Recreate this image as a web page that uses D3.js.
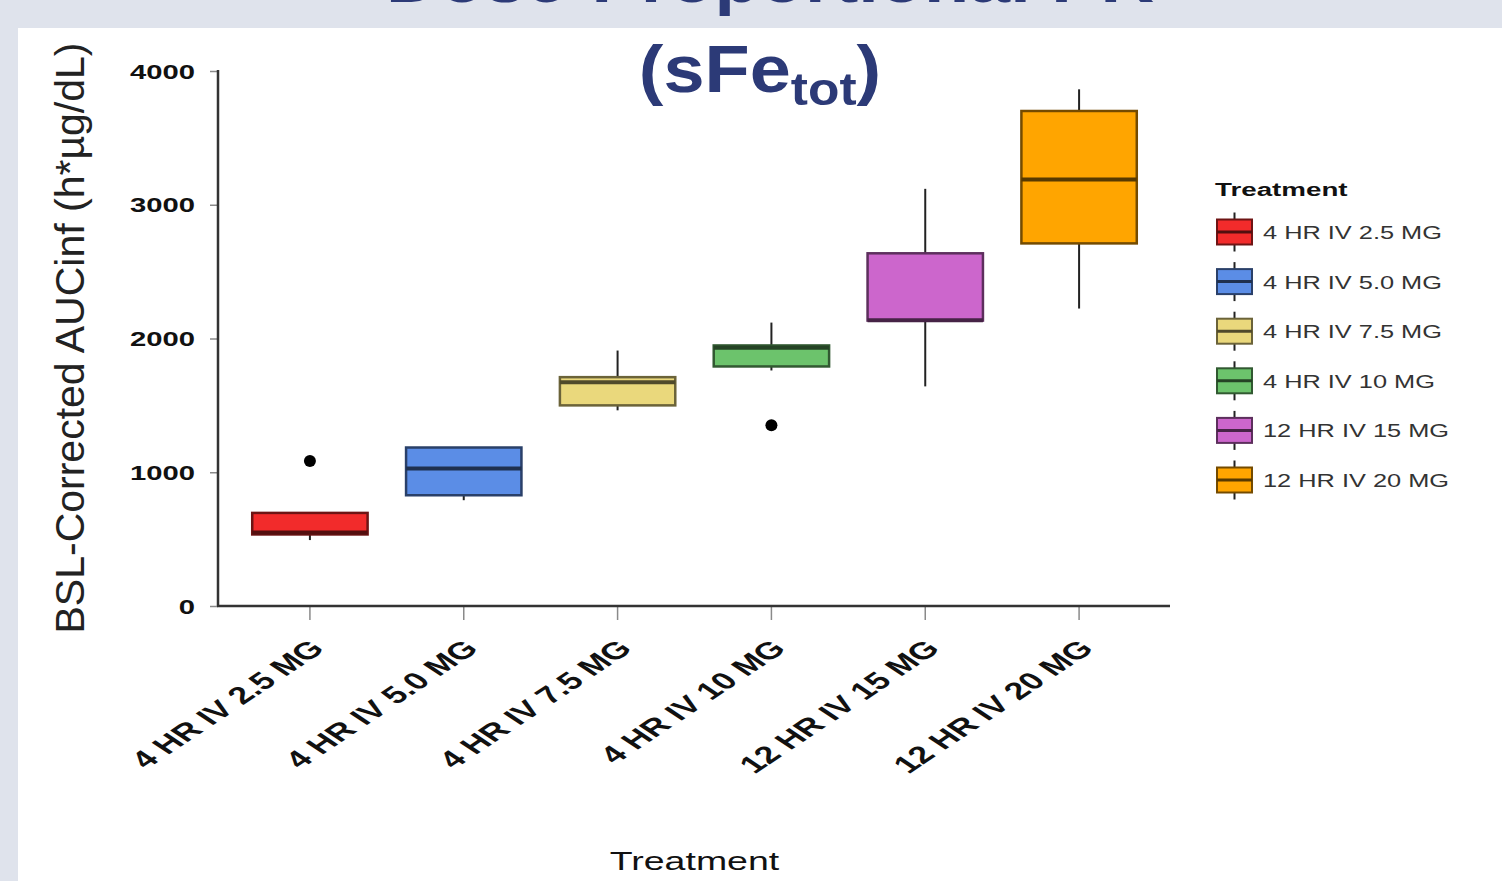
<!DOCTYPE html>
<html lang="en">
<head>
    <meta charset="UTF-8">
    <title>BSL-Corrected AUCinf box plot</title>
    <script src="https://d3js.org/d3.v7.min.js"></script>
    <style>
        html, body { margin: 0; padding: 0; background: #dfe3ec; }
        svg { display: block; font-family: "Liberation Sans", Arial, sans-serif; }
    </style>
</head>
<body>
    <div id="chart"></div>

    <script>
        // values
        var treatments = ["4 HR IV 2.5 MG", "4 HR IV 5.0 MG", "4 HR IV 7.5 MG",
                          "4 HR IV 10 MG", "12 HR IV 15 MG", "12 HR IV 20 MG"];
        var whiskerLow  = [493, 791, 1463, 1761, 1642, 2224];
        var q1          = [535, 828, 1500, 1791, 2134, 2711];
        var medians     = [550, 1028, 1672, 1930, 2136, 3189];
        var q3          = [696, 1185, 1711, 1948, 2637, 3701];
        var whiskerHigh = [696, 1185, 1910, 2119, 3119, 3863];
        var outliers    = [{ group: "4 HR IV 2.5 MG", value: 1084 },
                           { group: "4 HR IV 10 MG", value: 1351 }];
        var yTicks = [0, 1000, 2000, 3000, 4000];

        var palette = ["#f22b2b", "#5b8de6", "#ead87c", "#6cc36c", "#cc66cc", "#ffa500"];

        var width = 1502, height = 881;
        var stretch = 1.5; // the source image is stretched sideways

        var svg = d3.select("#chart").append("svg")
            .attr("width", width)
            .attr("height", height);

        // slide background + white panel
        svg.append("rect").attr("width", width).attr("height", height).attr("fill", "#dfe3ec");
        svg.append("rect").attr("x", 18).attr("y", 28).attr("width", width - 18).attr("height", height - 28)
            .attr("fill", "#ffffff");

        // title (first line is cut off by the top edge, as in the slide)
        svg.append("text")
            .attr("transform", "translate(770,2) scale(1.12,1)")
            .attr("text-anchor", "middle")
            .attr("font-size", 66).attr("font-weight", "bold").attr("fill", "#2c3a77")
            .text("Dose-Proportional PK");

        var sub = svg.append("text")
            .attr("transform", "translate(760,92) scale(1.12,1)")
            .attr("text-anchor", "middle")
            .attr("font-weight", "bold").attr("fill", "#2c3a77");
        sub.append("tspan").attr("font-size", 66).text("(sFe");
        sub.append("tspan").attr("font-size", 46).attr("dy", 13).text("tot");
        sub.append("tspan").attr("font-size", 66).attr("dy", -13).text(")");

        var x = d3.scaleBand().domain(treatments).range([233, 1156]);
        var y = d3.scaleLinear().domain([0, 4000]).range([606, 71]);
        var color = d3.scaleOrdinal().domain(treatments).range(palette);

        var axisLeft = 218;

        // y axis
        var gy = svg.append("g")
            .attr("transform", "translate(" + axisLeft + ",0)")
            .call(d3.axisLeft(y).tickValues(yTicks).tickFormat(d3.format("d")).tickSize(8).tickSizeOuter(0));
        gy.select(".domain").remove();
        gy.selectAll(".tick line").attr("stroke", "#8a8a8a").attr("stroke-width", 1.5);
        gy.selectAll(".tick text")
            .attr("x", null).attr("dy", "0.36em")
            .attr("transform", "translate(-23,0) scale(" + stretch + ",1)")
            .attr("font-family", "Liberation Sans, Arial, sans-serif")
            .attr("font-size", 19.5).attr("font-weight", "bold").attr("fill", "#111");

        // x axis
        var gx = svg.append("g")
            .attr("transform", "translate(0," + y(0) + ")")
            .call(d3.axisBottom(x).tickSize(14).tickSizeOuter(0));
        gx.select(".domain").remove();
        gx.selectAll(".tick line").attr("stroke", "#8a8a8a").attr("stroke-width", 1.5);
        gx.selectAll(".tick text")
            .attr("y", null).attr("dy", null)
            .attr("text-anchor", "end")
            .attr("transform", "translate(16,44) scale(" + stretch + ",1) rotate(-45)")
            .attr("font-family", "Liberation Sans, Arial, sans-serif")
            .attr("font-size", 24).attr("font-weight", "bold").attr("fill", "#111");

        // axis lines
        svg.append("line")
            .attr("x1", axisLeft).attr("x2", axisLeft)
            .attr("y1", y(4000) - 1).attr("y2", y(0))
            .attr("stroke", "#333").attr("stroke-width", 2.5);
        svg.append("line")
            .attr("x1", axisLeft - 1).attr("x2", x.range()[1] + 14)
            .attr("y1", y(0)).attr("y2", y(0))
            .attr("stroke", "#333").attr("stroke-width", 2.5);

        // boxes
        var boxW = x.bandwidth() * 0.75;
        var boxes = svg.append("g").selectAll("g")
            .data(treatments)
            .enter().append("g")
            .attr("transform", function(d) { return "translate(" + (x(d) + x.bandwidth() / 2) + ",0)"; });

        boxes.append("line")
            .attr("y1", function(d, i) { return y(whiskerHigh[i]); })
            .attr("y2", function(d, i) { return y(whiskerLow[i]); })
            .attr("stroke", "#222").attr("stroke-width", 2);

        boxes.append("rect")
            .attr("x", -boxW / 2).attr("width", boxW)
            .attr("y", function(d, i) { return y(q3[i]); })
            .attr("height", function(d, i) { return y(q1[i]) - y(q3[i]); })
            .attr("fill", function(d) { return color(d); })
            .attr("stroke", function(d) { return d3.color(color(d)).darker(2.2); })
            .attr("stroke-width", 2.5);

        boxes.append("line")
            .attr("x1", -boxW / 2).attr("x2", boxW / 2)
            .attr("y1", function(d, i) { return y(medians[i]); })
            .attr("y2", function(d, i) { return y(medians[i]); })
            .attr("stroke", function(d) { return d3.color(color(d)).darker(3); })
            .attr("stroke-width", 4);

        svg.append("g").selectAll("circle")
            .data(outliers)
            .enter().append("circle")
            .attr("cx", function(d) { return x(d.group) + x.bandwidth() / 2; })
            .attr("cy", function(d) { return y(d.value); })
            .attr("r", 6)
            .attr("fill", "#000");

        // axis titles
        svg.append("text")
            .attr("transform", "translate(" + d3.mean(x.range()) + ",870) scale(" + stretch + ",1)")
            .attr("text-anchor", "middle")
            .attr("font-size", 25).attr("fill", "#111")
            .text("Treatment");

        svg.append("text")
            .attr("transform", "translate(84,338) rotate(-90)")
            .attr("text-anchor", "middle")
            .attr("font-size", 41).attr("fill", "#222")
            .text("BSL-Corrected AUCinf (h*µg/dL)");

        // legend
        var legend = svg.append("g").attr("transform", "translate(1217,0)");
        legend.append("text")
            .attr("transform", "translate(-2,196) scale(" + stretch + ",1)")
            .attr("font-size", 18.5).attr("font-weight", "bold").attr("fill", "#111")
            .text("Treatment");

        var keyW = 35, keyH = 25, rowStep = 49.6;
        var items = legend.selectAll("g.item")
            .data(treatments)
            .enter().append("g")
            .attr("class", "item")
            .attr("transform", function(d, i) { return "translate(0," + (232 + i * rowStep) + ")"; });

        items.append("line")
            .attr("x1", keyW / 2).attr("x2", keyW / 2)
            .attr("y1", -keyH / 2 - 7).attr("y2", keyH / 2 + 7)
            .attr("stroke", "#222").attr("stroke-width", 2);
        items.append("rect")
            .attr("y", -keyH / 2).attr("width", keyW).attr("height", keyH)
            .attr("fill", function(d) { return color(d); })
            .attr("stroke", function(d) { return d3.color(color(d)).darker(2.2); })
            .attr("stroke-width", 2);
        items.append("line")
            .attr("x1", 0).attr("x2", keyW)
            .attr("stroke", function(d) { return d3.color(color(d)).darker(3); })
            .attr("stroke-width", 3);
        items.append("text")
            .attr("transform", "translate(46,7) scale(1.45,1)")
            .attr("font-size", 17.5).attr("fill", "#333")
            .text(function(d) { return d; });
    </script>
</body>
</html>
